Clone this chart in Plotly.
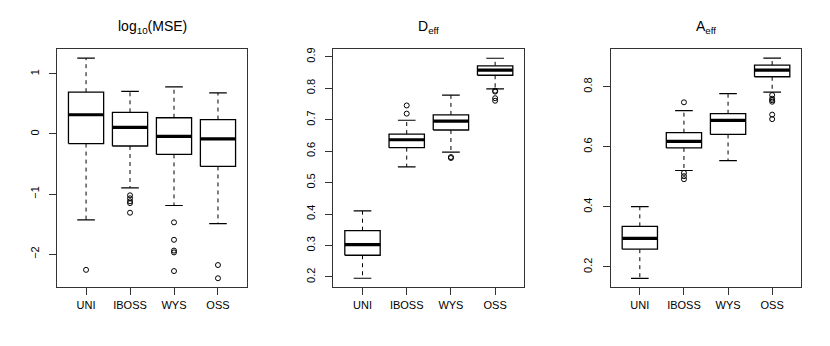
import plotly.graph_objects as go

categories = ['UNI', 'IBOSS', 'WYS', 'OSS']

# log10(MSE)
mse_lower = [-1.43, -0.895, -1.19, -1.49]
mse_q1 = [-0.16, -0.20, -0.34, -0.54]
mse_median = [0.32, 0.11, -0.04, -0.08]
mse_q3 = [0.695, 0.36, 0.27, 0.24]
mse_upper = [1.26, 0.71, 0.785, 0.685]
mse_outliers = [[-2.26], [-1.02, -1.07, -1.12, -1.15, -1.31],
                [-1.47, -1.76, -1.94, -1.97, -2.28], [-2.18, -2.40]]

# D_eff
d_lower = [0.196, 0.550, 0.597, 0.798]
d_q1 = [0.269, 0.611, 0.667, 0.841]
d_median = [0.303, 0.636, 0.695, 0.857]
d_q3 = [0.347, 0.654, 0.715, 0.871]
d_upper = [0.410, 0.698, 0.778, 0.895]
d_outliers = [[], [0.719, 0.745], [0.581, 0.578], [0.792, 0.789, 0.768, 0.760]]

# A_eff
a_lower = [0.162, 0.521, 0.554, 0.782]
a_q1 = [0.259, 0.596, 0.641, 0.833]
a_median = [0.295, 0.618, 0.688, 0.855]
a_q3 = [0.335, 0.647, 0.710, 0.872]
a_upper = [0.401, 0.720, 0.777, 0.895]
a_outliers = [[], [0.748, 0.513, 0.502, 0.492], [],
              [0.772, 0.760, 0.755, 0.750, 0.707, 0.692]]

titles = ['log<sub>10</sub>(MSE)', 'D<sub>eff</sub>', 'A<sub>eff</sub>']
y_ticks = [[-2, -1, 0, 1],
           [0.2, 0.3, 0.4, 0.5, 0.6, 0.7, 0.8, 0.9],
           [0.2, 0.4, 0.6, 0.8]]
y_ranges = [[-2.546, 1.406], [0.168, 0.923], [0.133, 0.924]]

panels = [
    (mse_lower, mse_q1, mse_median, mse_q3, mse_upper, mse_outliers),
    (d_lower, d_q1, d_median, d_q3, d_upper, d_outliers),
    (a_lower, a_q1, a_median, a_q3, a_upper, a_outliers),
]

x_domains = [[0.0687, 0.2976], [0.4016, 0.6317], [0.7358, 0.9654]]
y_domain = [0.1714, 0.8621]

half_box = 0.4
half_cap = 0.2

fig = go.Figure()

for p, (lo, q1, med, q3, up, outl) in enumerate(panels):
    xa = 'x' if p == 0 else 'x%d' % (p + 1)
    ya = 'y' if p == 0 else 'y%d' % (p + 1)

    # dashed whiskers
    wx, wy = [], []
    for i in range(len(categories)):
        c = i + 1
        wx += [c, c, None, c, c, None]
        wy += [q3[i], up[i], None, q1[i], lo[i], None]
    fig.add_trace(go.Scatter(x=wx, y=wy, mode='lines', xaxis=xa, yaxis=ya,
                             line=dict(color='black', width=1, dash='4px,4px'),
                             hoverinfo='skip', showlegend=False))
    # staples
    sx, sy = [], []
    for i in range(len(categories)):
        c = i + 1
        sx += [c - half_cap, c + half_cap, None, c - half_cap, c + half_cap, None]
        sy += [up[i], up[i], None, lo[i], lo[i], None]
    fig.add_trace(go.Scatter(x=sx, y=sy, mode='lines', xaxis=xa, yaxis=ya,
                             line=dict(color='black', width=1.2),
                             hoverinfo='skip', showlegend=False))
    # boxes
    for i in range(len(categories)):
        c = i + 1
        fig.add_trace(go.Scatter(
            x=[c - half_box, c + half_box, c + half_box, c - half_box, c - half_box],
            y=[q1[i], q1[i], q3[i], q3[i], q1[i]],
            mode='lines', fill='toself', fillcolor='white',
            xaxis=xa, yaxis=ya, line=dict(color='black', width=1.3),
            hoverinfo='skip', showlegend=False))
    # medians
    mx, my = [], []
    for i in range(len(categories)):
        c = i + 1
        mx += [c - half_box, c + half_box, None]
        my += [med[i], med[i], None]
    fig.add_trace(go.Scatter(x=mx, y=my, mode='lines', xaxis=xa, yaxis=ya,
                             line=dict(color='black', width=3.2),
                             hoverinfo='skip', showlegend=False))
    # outliers
    ox, oy = [], []
    for i in range(len(categories)):
        ox += [i + 1] * len(outl[i])
        oy += outl[i]
    fig.add_trace(go.Scatter(x=ox, y=oy, mode='markers', xaxis=xa, yaxis=ya,
                             marker=dict(symbol='circle-open', size=5, color='black',
                                         line=dict(width=1)),
                             hoverinfo='skip', showlegend=False))

axis_common = dict(showline=True, mirror=True, linecolor='#333', linewidth=1,
                   ticks='outside', ticklen=7, tickcolor='#333', showgrid=False,
                   zeroline=False, tickfont=dict(size=11, color='black'))

layout = dict(width=830, height=346, margin=dict(l=0, r=0, t=0, b=0),
              plot_bgcolor='white', paper_bgcolor='white',
              font=dict(family='Liberation Sans, Arial, sans-serif', color='black'))

annotations = []
for p in range(3):
    xkey = 'xaxis' if p == 0 else 'xaxis%d' % (p + 1)
    ykey = 'yaxis' if p == 0 else 'yaxis%d' % (p + 1)
    ya = 'y' if p == 0 else 'y%d' % (p + 1)
    xa = 'x' if p == 0 else 'x%d' % (p + 1)
    layout[xkey] = dict(domain=x_domains[p], range=[0.34, 4.66], anchor=ya,
                        tickvals=[1, 2, 3, 4], ticktext=categories,
                        ticklabelstandoff=1, **axis_common)
    layout[ykey] = dict(domain=y_domain, range=y_ranges[p], anchor=xa,
                        tickvals=y_ticks[p], tickangle=-90,
                        ticklabelstandoff=6, **axis_common)
    annotations.append(dict(text=titles[p], x=sum(x_domains[p]) / 2, y=(346 - 25) / 346,
                            xref='paper', yref='paper', showarrow=False,
                            xanchor='center', yanchor='middle',
                            font=dict(size=14, color='black')))
layout['annotations'] = annotations

fig.update_layout(**layout)

# page body has a default 8px margin; drop it so the figure sits at the window corner
fig.write_html("out.html", config={'displayModeBar': False},
               post_script="document.body.style.margin='0';")
